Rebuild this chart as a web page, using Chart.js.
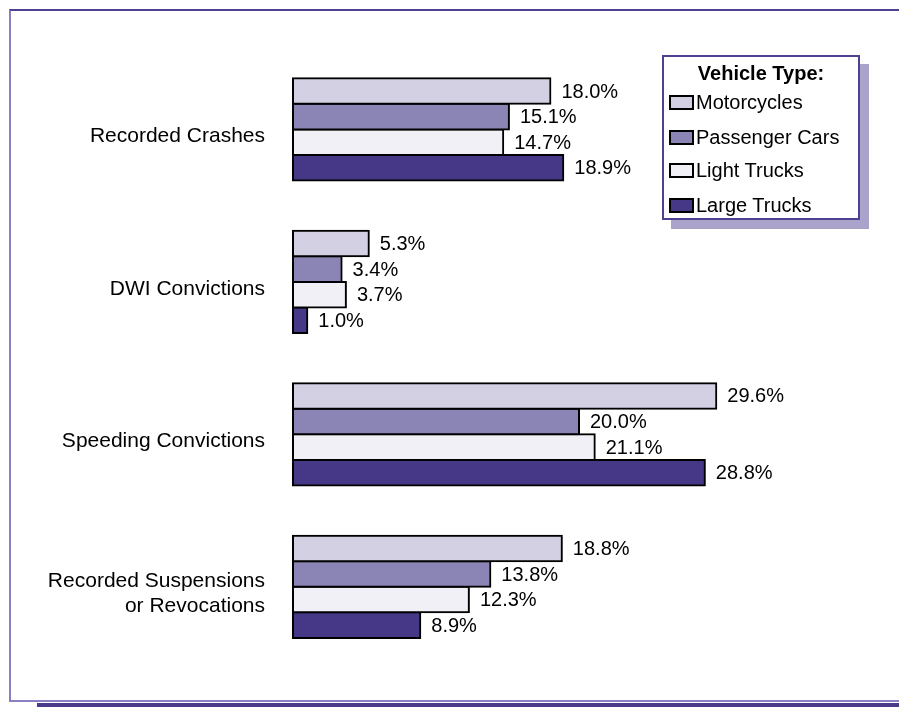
<!DOCTYPE html>
<html>
<head>
<meta charset="utf-8">
<script src="https://cdn.jsdelivr.net/npm/chart.js@4.4.1/dist/chart.umd.min.js"></script>
<style>
  html, body { margin: 0; padding: 0; background: #fff; }
  body { width: 899px; height: 707px; position: relative; overflow: hidden; font-family: "Liberation Sans", Arial, sans-serif; }
  .frame { position: absolute; left: 9px; top: 9px; width: 1000px; height: 693px; border-top: 2px solid #4e4192; border-left: 2px solid #8a7fc4; border-bottom: 2px solid #8a7fc4; box-sizing: border-box; }
  .frame-shadow { position: absolute; left: 37px; top: 703px; width: 900px; height: 4px; background: #4b3a8a; }
  #chart { position: absolute; left: 0; top: 0; }
  .legend-shadow { position: absolute; left: 671px; top: 64px; width: 198px; height: 165px; background: #aaa3ca; }
  .legend { position: absolute; left: 662px; top: 55px; width: 198px; height: 165px; box-sizing: border-box; border: 2px solid #4e4192; background: #fff; }
  .legend h4 { margin: 0; position: absolute; top: 5px; left: 0; width: 100%; text-align: center; font-size: 20px; font-weight: bold; color: #000; }
  .legend .item { position: absolute; left: 5px; height: 24px; display: flex; align-items: center; font-size: 20px; color: #000; white-space: nowrap; }
  .legend .swatch { width: 25px; height: 15px; box-sizing: border-box; border: 2px solid #000; margin-right: 2px; }
</style>
</head>
<body>
<div class="frame"></div>
<div class="frame-shadow"></div>
<canvas id="chart" width="899" height="707"></canvas>
<div class="legend-shadow"></div>
<div class="legend" id="legend"><h4>Vehicle Type:</h4></div>
<script>
const categories = [
  "Recorded Crashes",
  "DWI Convictions",
  "Speeding Convictions",
  ["Recorded Suspensions", "or Revocations"],
];
const seriesNames = ["Motorcycles", "Passenger Cars", "Light Trucks", "Large Trucks"];
const seriesColors = ["#d4d0e4", "#8b85b6", "#f1f0f6", "#463886"];
const motorcycles = [18.0, 5.3, 29.6, 18.8];
const passengerCars = [15.1, 3.4, 20.0, 13.8];
const lightTrucks = [14.7, 3.7, 21.1, 12.3];
const largeTrucks = [18.9, 1.0, 28.8, 8.9];
const seriesValues = [motorcycles, passengerCars, lightTrucks, largeTrucks];

const FONT = "'Liberation Sans', Arial, sans-serif";

// value labels to the right of each bar
const valueLabels = {
  id: "valueLabels",
  afterDatasetsDraw(chart) {
    const ctx = chart.ctx;
    ctx.save();
    ctx.font = "20px " + FONT;
    ctx.fillStyle = "#000";
    ctx.textAlign = "left";
    ctx.textBaseline = "middle";
    chart.data.datasets.forEach((ds, i) => {
      chart.getDatasetMeta(i).data.forEach((bar, j) => {
        ctx.fillText(ds.data[j].toFixed(1) + "%", bar.x + 11, bar.y + 1);
      });
    });
    ctx.restore();
  },
};

new Chart(document.getElementById("chart"), {
  type: "bar",
  data: {
    labels: categories,
    datasets: seriesNames.map((name, i) => ({
      label: name,
      data: seriesValues[i],
      backgroundColor: seriesColors[i],
      borderColor: "#000",
      borderWidth: 2,
      borderSkipped: false,
      inflateAmount: 1,
      clip: false,
      barPercentage: 1,
      categoryPercentage: 0.671,
    })),
  },
  options: {
    indexAxis: "y",
    responsive: false,
    animation: false,
    layout: { padding: { top: 47, bottom: 44, right: 34, left: 0 } },
    plugins: {
      legend: { display: false },
      tooltip: { enabled: false },
    },
    scales: {
      x: { display: false, min: 0, max: 40 },
      y: {
        afterFit: (scale) => { scale.width = 293; },
        grid: { display: false, drawTicks: false },
        border: { display: false },
        ticks: {
          color: "#000",
          font: { family: FONT, size: 21 },
          padding: 28,
          labelOffset: 7,
        },
      },
    },
  },
  plugins: [valueLabels],
});

// legend box built from the series arrays
const legend = document.getElementById("legend");
const itemTops = [33, 68, 101, 136];
seriesNames.forEach((name, i) => {
  const item = document.createElement("div");
  item.className = "item";
  item.style.top = itemTops[i] + "px";
  item.innerHTML = `<span class="swatch" style="background:${seriesColors[i]}"></span>${name}`;
  legend.appendChild(item);
});
</script>
</body>
</html>
